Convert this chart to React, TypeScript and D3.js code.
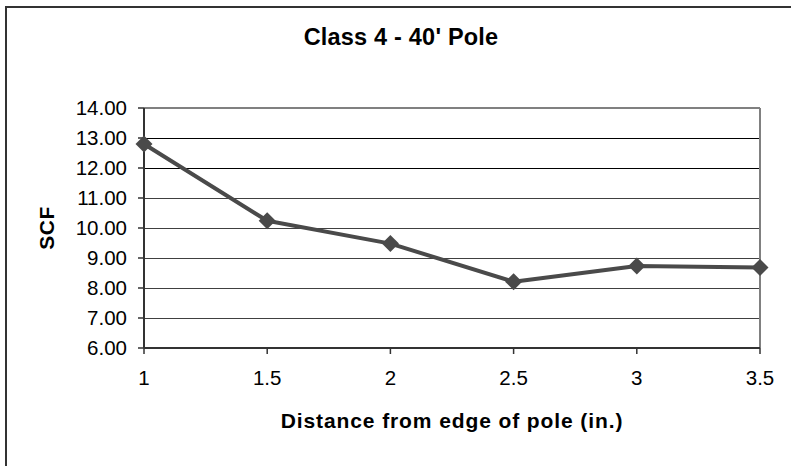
import React from 'react';
import * as d3 from 'd3';

const title = "Class 4 - 40' Pole";
const xLabel = 'Distance from edge of pole (in.)';
const yLabel = 'SCF';

const distances = [1, 1.5, 2, 2.5, 3, 3.5];
const scfValues = [12.8, 10.24, 9.48, 8.21, 8.73, 8.68];
const yTicks = [6, 7, 8, 9, 10, 11, 12, 13, 14];
const xTicks = [1, 1.5, 2, 2.5, 3, 3.5];

const W = 791;
const H = 466;
const plot = { left: 144, right: 760, top: 108, bottom: 348 };
const font = '"Liberation Sans", Arial, sans-serif';
const lineColor = '#4a4a4a';

const App: React.FC = () => {
  const x = d3.scaleLinear().domain([1, 3.5]).range([plot.left, plot.right]);
  const y = d3.scaleLinear().domain([6, 14]).range([plot.bottom, plot.top]);

  const line = d3
    .line<number>()
    .x((_, i) => x(distances[i]))
    .y((d) => y(d));

  const diamond = d3.symbol().type(d3.symbolDiamond2).size(185)();

  return (
    <div style={{ position: 'absolute', left: 0, top: 0 }}>
      <svg width={W} height={H} style={{ display: 'block', background: '#fff' }}>
        {/* outer chart frame (only left/top edges visible) */}
        <rect x={6} y={7} width={900} height={600} fill="none" stroke="#333" strokeWidth={2} />

        {/* title */}
        <text
          x={401}
          y={45}
          textAnchor="middle"
          fontFamily={font}
          fontWeight="bold"
          fontSize={23.5}
          letterSpacing={0.2}
          fill="#000"
        >
          {title}
        </text>

        {/* gridlines */}
        {yTicks
          .filter((t) => t !== 6 && t !== 14)
          .map((t) => (
            <line
              key={t}
              x1={plot.left}
              x2={plot.right}
              y1={y(t)}
              y2={y(t)}
              stroke={t >= 12 ? '#000' : '#404040'}
              strokeWidth={1}
              shapeRendering="crispEdges"
            />
          ))}

        {/* plot frame top/right */}
        <line x1={plot.left} x2={plot.right} y1={plot.top} y2={plot.top} stroke="#808080" strokeWidth={2} />
        <line x1={plot.right} x2={plot.right} y1={plot.top} y2={plot.bottom} stroke="#808080" strokeWidth={2} />

        {/* axes */}
        <line x1={plot.left} x2={plot.left} y1={plot.top} y2={plot.bottom} stroke="#333" strokeWidth={2} />
        <line x1={plot.left} x2={plot.right} y1={plot.bottom} y2={plot.bottom} stroke="#333" strokeWidth={2} />

        {/* y ticks */}
        {yTicks.map((t) => (
          <g key={t}>
            <line x1={plot.left - 6} x2={plot.left} y1={y(t)} y2={y(t)} stroke="#333" strokeWidth={1.5} />
            <text
              x={127}
              y={y(t)}
              dy="0.36em"
              textAnchor="end"
              fontFamily={font}
              fontSize={20.5}
              fill="#000"
            >
              {t.toFixed(2)}
            </text>
          </g>
        ))}

        {/* x ticks */}
        {xTicks.map((t) => (
          <g key={t}>
            <line x1={x(t)} x2={x(t)} y1={plot.bottom} y2={plot.bottom + 6} stroke="#333" strokeWidth={1.5} />
            <text
              x={x(t)}
              y={385}
              textAnchor="middle"
              fontFamily={font}
              fontSize={20.5}
              fill="#000"
            >
              {String(t)}
            </text>
          </g>
        ))}

        {/* axis titles */}
        <text
          x={(plot.left + plot.right) / 2}
          y={428}
          textAnchor="middle"
          fontFamily={font}
          fontWeight="bold"
          fontSize={21}
          letterSpacing={0.9}
          fill="#000"
        >
          {xLabel}
        </text>
        <text
          transform="translate(54,228) rotate(-90)"
          textAnchor="middle"
          fontFamily={font}
          fontWeight="bold"
          fontSize={21}
          letterSpacing={0.5}
          fill="#000"
        >
          {yLabel}
        </text>

        {/* series */}
        <path d={line(scfValues) || ''} fill="none" stroke={lineColor} strokeWidth={4} strokeLinejoin="round" />
        {scfValues.map((v, i) => (
          <path
            key={i}
            d={diamond || ''}
            transform={`translate(${x(distances[i])},${y(v)})`}
            fill={lineColor}
          />
        ))}
      </svg>
    </div>
  );
};

export default App;
